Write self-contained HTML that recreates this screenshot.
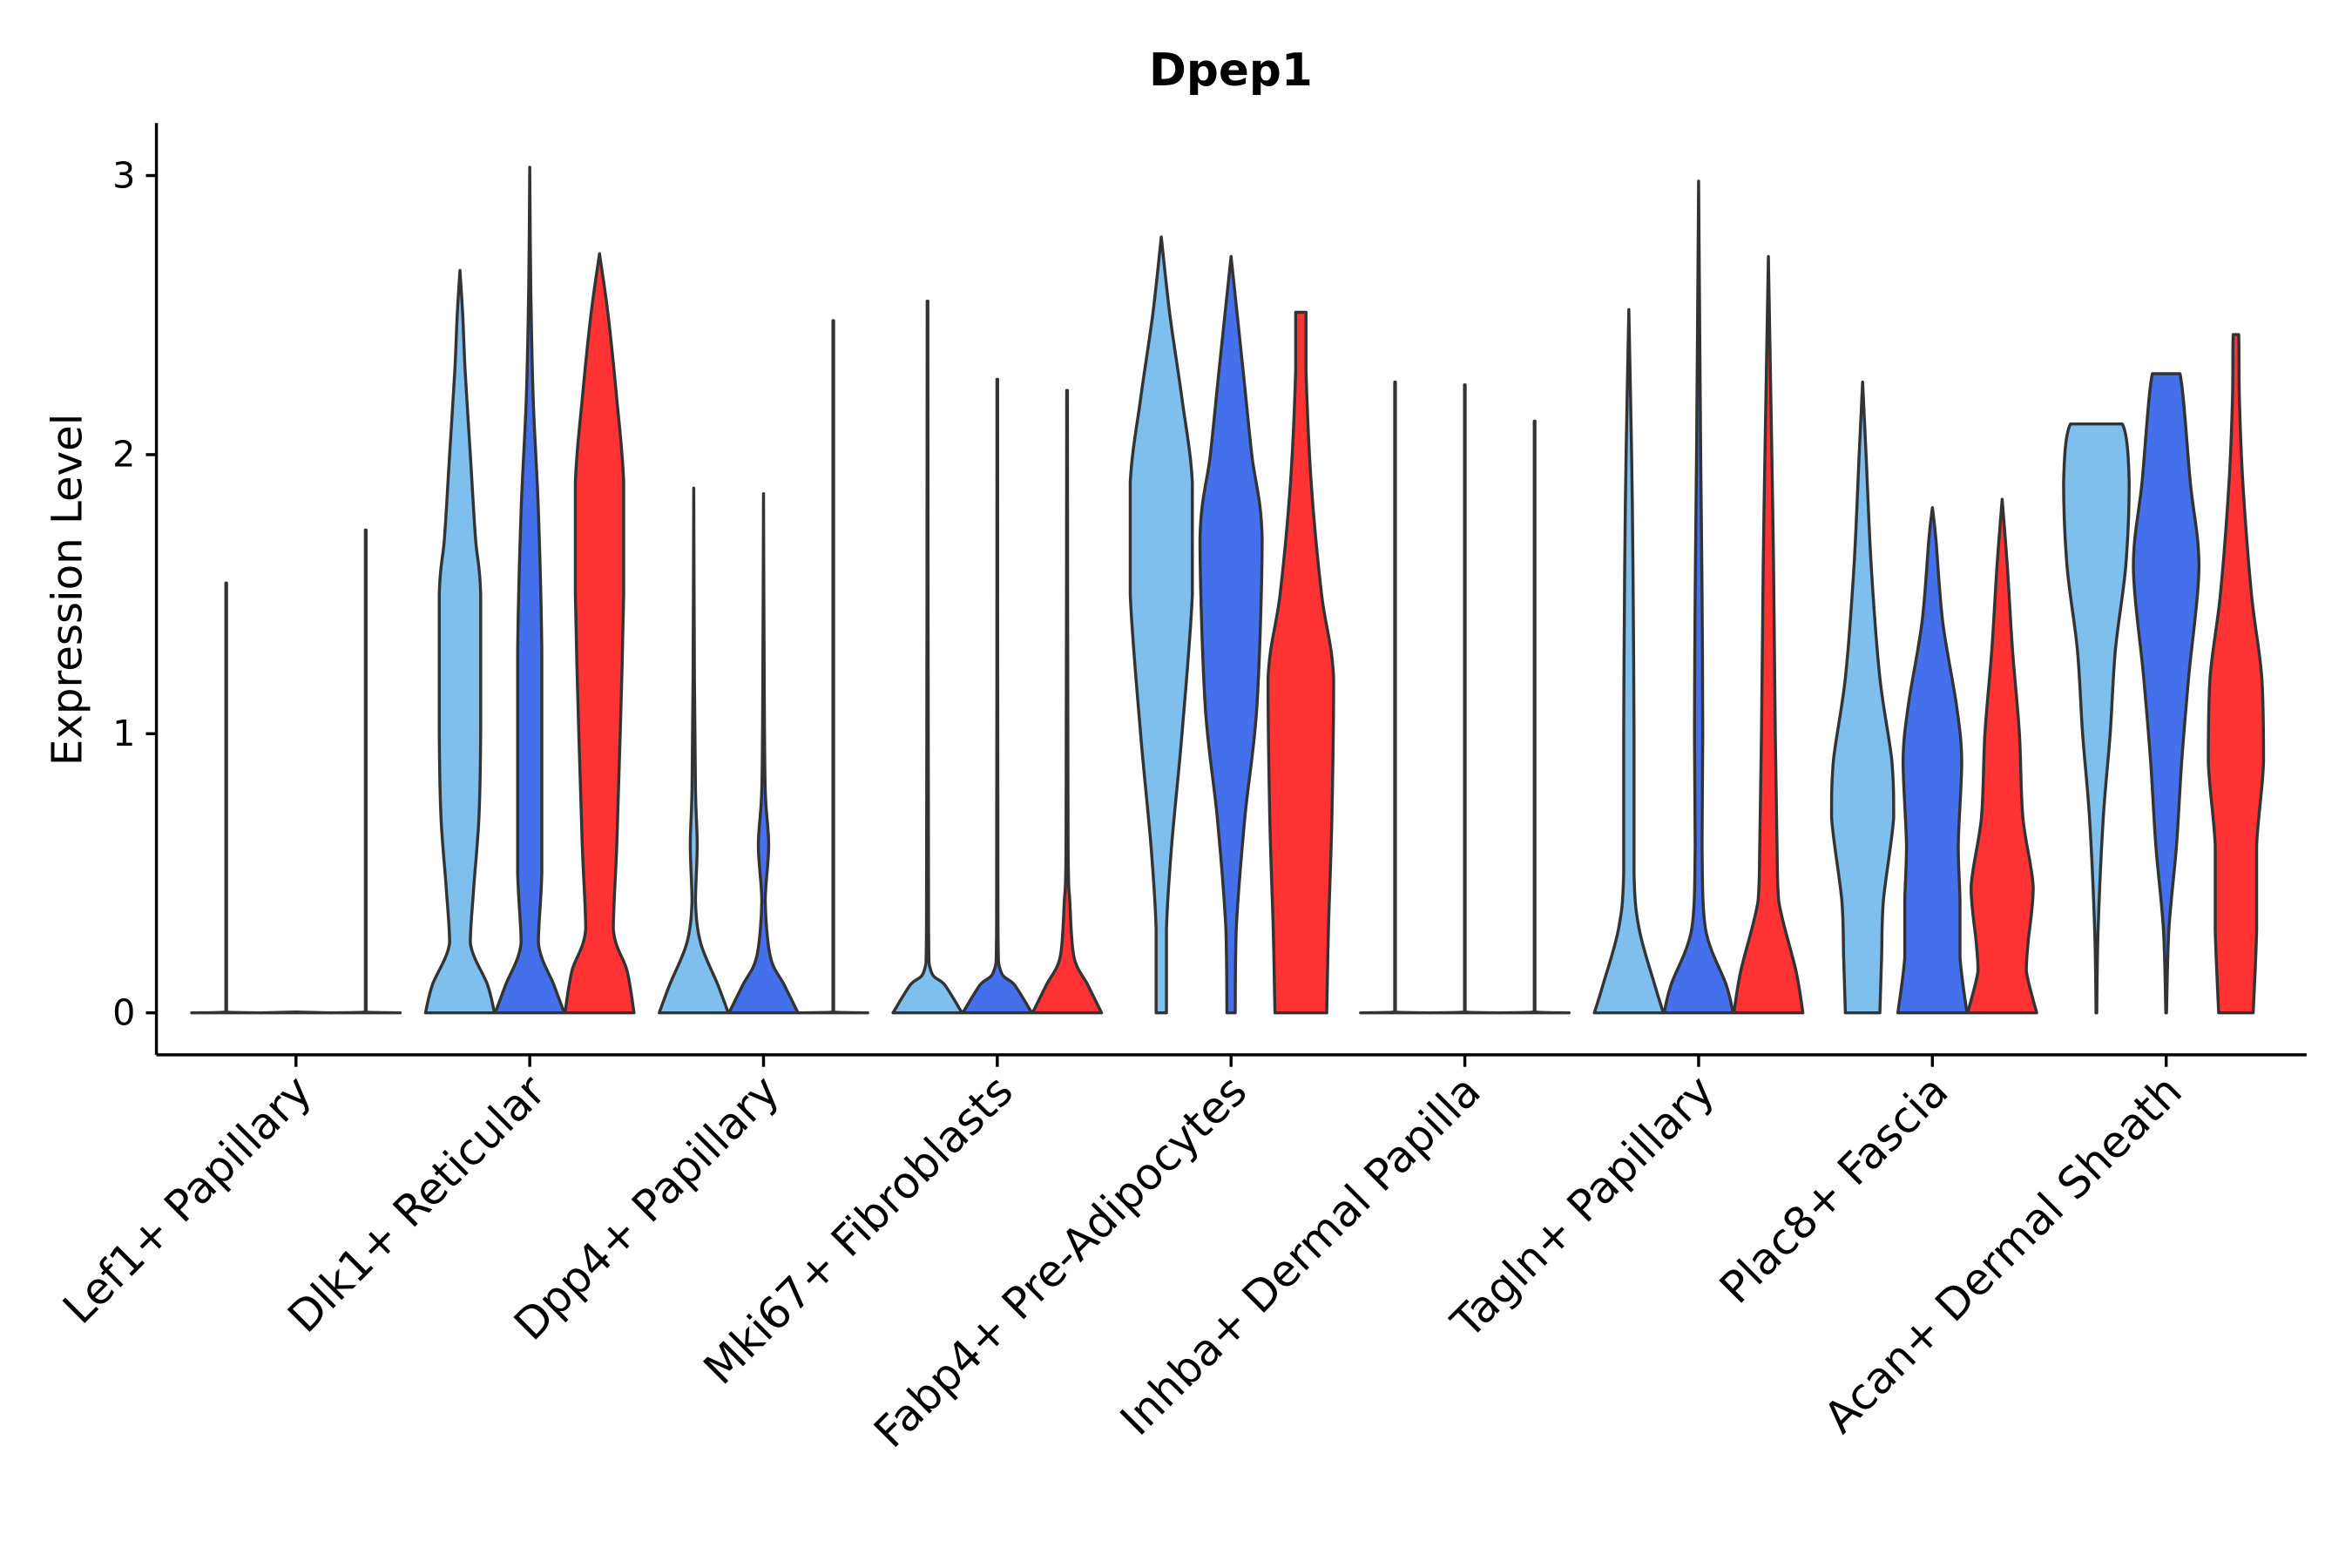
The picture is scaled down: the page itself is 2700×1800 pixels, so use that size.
<!DOCTYPE html>
<html><head><meta charset="utf-8"><style>
html,body{margin:0;padding:0;background:#fff;}
svg{display:block;font-family:"DejaVu Sans","Liberation Sans",sans-serif;}
</style></head><body>
<svg id="chart" width="2700" height="1800" viewBox="0 0 1567 1045" xmlns="http://www.w3.org/2000/svg">
<rect width="1567" height="1045" fill="#fff"/>
<text x="820" y="57" font-size="30" font-weight="bold" text-anchor="middle">Dpep1</text>
<text transform="translate(54,393) rotate(-90)" font-size="28" text-anchor="middle">Expression Level</text>
<g id="plot"></g>
</svg>
<script>
const categories = ["Lef1+ Papillary","Dlk1+ Reticular","Dpp4+ Papillary","Mki67+ Fibroblasts","Fabp4+ Pre-Adipocytes","Inhba+ Dermal Papilla","Tagln+ Papillary","Plac8+ Fascia","Acan+ Dermal Sheath"];
const seriesColors = ["#7FBFEE","#4570EB","#FF3333"];
const yTicks = [0,1,2,3];
// violin profiles: [value, relative half-width]
const lightProfiles = [
 [[0,1],[0.003,0.01],[1.54,0.01]],
 [[0,1],[0.1,0.8],[0.25,0.3],[0.45,0.4],[0.7,0.55],[1.0,0.6],[1.5,0.6],[1.7,0.45],[2.0,0.3],[2.3,0.15],[2.5,0.08],[2.66,0]],
 [[0,1],[0.1,0.7],[0.25,0.2],[0.4,0.05],[0.6,0.1],[0.8,0.05],[1.2,0.02],[1.88,0]],
 [[0,1],[0.1,0.5],[0.15,0.1],[0.3,0.03],[2.55,0.01]],
 [[0,0.15],[0.3,0.15],[0.6,0.3],[1.0,0.6],[1.5,0.9],[1.9,0.9],[2.2,0.6],[2.5,0.25],[2.78,0]],
 [[0,1],[0.003,0.01],[2.26,0.01]],
 [[0,1],[0.1,0.75],[0.3,0.3],[0.5,0.15],[1.0,0.15],[1.6,0.12],[2.0,0.08],[2.52,0]],
 [[0,0.5],[0.2,0.55],[0.4,0.6],[0.7,0.9],[0.9,0.85],[1.2,0.5],[1.6,0.25],[2.0,0.1],[2.26,0]],
 [[0,0.01],[0.3,0.05],[0.7,0.2],[1.0,0.4],[1.3,0.55],[1.6,0.85],[1.9,0.95],[2.11,0.75],[2.11,0]]
];
const blueProfiles = [
 [[0,1],[0.003,0.005]],
 [[0,1],[0.1,0.7],[0.25,0.25],[0.5,0.35],[0.8,0.35],[1.3,0.35],[1.8,0.25],[2.2,0.1],[2.6,0.03],[3.03,0]],
 [[0,1],[0.1,0.6],[0.2,0.2],[0.4,0.05],[0.6,0.15],[0.8,0.05],[1.2,0.02],[1.86,0]],
 [[0,1],[0.1,0.5],[0.15,0.1],[0.3,0.02],[2.27,0.01]],
 [[0,0.12],[0.3,0.15],[0.7,0.4],[1.1,0.75],[1.7,0.9],[2.0,0.6],[2.3,0.35],[2.71,0]],
 [[0,1],[0.003,0.01],[2.25,0.01]],
 [[0,1],[0.1,0.8],[0.3,0.2],[0.6,0.1],[1.0,0.12],[1.5,0.1],[2.0,0.06],[2.98,0]],
 [[0,1],[0.2,0.8],[0.4,0.8],[0.6,0.75],[0.9,0.85],[1.1,0.7],[1.4,0.3],[1.7,0.1],[1.81,0]],
 [[0,0.01],[0.3,0.08],[0.6,0.3],[0.9,0.45],[1.2,0.65],[1.6,0.95],[1.9,0.7],[2.29,0.4],[2.29,0]]
];
const redProfiles = [
 [[0,1],[0.003,0.01],[1.73,0.01]],
 [[0,1],[0.15,0.8],[0.3,0.4],[0.6,0.5],[1.0,0.6],[1.5,0.7],[1.9,0.7],[2.2,0.5],[2.5,0.25],[2.72,0]],
 [[0,1],[0.003,0.01],[2.48,0.01]],
 [[0,1],[0.1,0.6],[0.2,0.2],[0.4,0.08],[0.6,0.03],[2.23,0.01]],
 [[0,0.75],[0.3,0.8],[0.7,0.9],[1.2,0.95],[1.5,0.6],[1.9,0.3],[2.3,0.15],[2.51,0.15],[2.51,0]],
 [[0,1],[0.003,0.01],[2.12,0.01]],
 [[0,1],[0.15,0.8],[0.4,0.3],[0.6,0.25],[1.0,0.2],[1.6,0.15],[2.0,0.1],[2.71,0]],
 [[0,1],[0.15,0.7],[0.25,0.75],[0.45,0.9],[0.7,0.6],[1.0,0.5],[1.3,0.3],[1.6,0.15],[1.84,0]],
 [[0,0.5],[0.3,0.6],[0.6,0.6],[0.9,0.8],[1.2,0.75],[1.5,0.45],[1.9,0.2],[2.2,0.1],[2.43,0.08],[2.43,0]]
];
const series = [lightProfiles, blueProfiles, redProfiles];
const NS="http://www.w3.org/2000/svg";
const plot=document.getElementById('plot');
const x0=104,x1=1537,yTop=82,yBot=703;
function yScale(v){return 675-186*v;}
function xScale(i){return 197+i*155.8;}
const offsets=[-46.5,0,46.5], maxHalf=23;
function mk(tag,attrs){const e=document.createElementNS(NS,tag);for(const k in attrs)e.setAttribute(k,attrs[k]);plot.appendChild(e);return e;}
function clamp(v,a,b){const lo=Math.min(a,b),hi=Math.max(a,b);return Math.min(hi,Math.max(lo,v));}
function smooth(pts){
  let d='';
  for(let i=0;i<pts.length-1;i++){
    const p0=pts[Math.max(0,i-1)],p1=pts[i],p2=pts[i+1],p3=pts[Math.min(pts.length-1,i+2)];
    const t=0.16;
    let c1x=clamp(p1[0]+(p2[0]-p0[0])*t,p1[0],p2[0]), c1y=clamp(p1[1]+(p2[1]-p0[1])*t,p1[1],p2[1]);
    let c2x=clamp(p2[0]-(p3[0]-p1[0])*t,p1[0],p2[0]), c2y=clamp(p2[1]-(p3[1]-p1[1])*t,p1[1],p2[1]);
    d+='C'+c1x.toFixed(2)+','+c1y.toFixed(2)+' '+c2x.toFixed(2)+','+c2y.toFixed(2)+' '+p2[0].toFixed(2)+','+p2[1].toFixed(2);
  }
  return d;
}
series.forEach((profs,s)=>{
  profs.forEach((p,i)=>{
    const cx=xScale(i)+offsets[s];
    const right=p.map(([v,w])=>[cx+w*maxHalf,yScale(v)]);
    const left=p.slice().reverse().map(([v,w])=>[cx-w*maxHalf,yScale(v)]);
    const d='M'+right[0][0].toFixed(2)+','+right[0][1].toFixed(2)+smooth(right)+'L'+left[0][0].toFixed(2)+','+left[0][1].toFixed(2)+smooth(left)+'Z';
    const el=mk('path',{d:d,fill:seriesColors[s],stroke:'#333','stroke-width':2,'stroke-linejoin':'round'});
    
    
  });
});
let ax=mk('line',{x1:x0,y1:yTop,x2:x0,y2:yBot,stroke:'#000','stroke-width':2});


ax=mk('line',{x1:x0,y1:yBot,x2:x1,y2:yBot,stroke:'#000','stroke-width':2});


yTicks.forEach(t=>{
  const y=yScale(t);
  const tk=mk('line',{x1:x0-7,y1:y,x2:x0,y2:y,stroke:'#000','stroke-width':2});
  
  
  const tl=mk('text',{x:x0-14,y:y+8,'font-size':24,'text-anchor':'end'});
  tl.textContent=t;
  
  
});
categories.forEach((c,i)=>{
  const x=xScale(i);
  const tk=mk('line',{x1:x,y1:yBot,x2:x,y2:yBot+8,stroke:'#000','stroke-width':2});
  
  
  const tl=mk('text',{transform:'translate('+(x+12)+','+(yBot+26)+') rotate(-45)','font-size':29,'text-anchor':'end'});
  tl.textContent=c;
  
  
});
</script>
</body></html>
